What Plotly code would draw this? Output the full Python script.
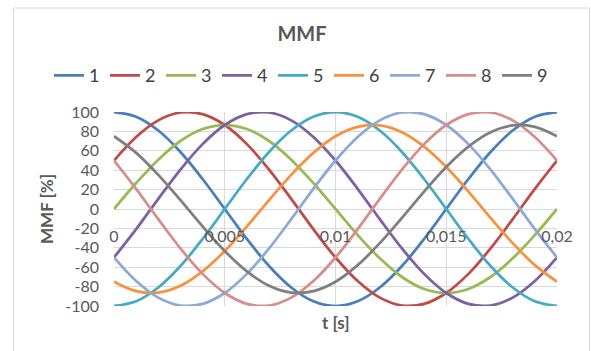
import plotly.graph_objects as go

t = [0, 0.001, 0.002, 0.003, 0.004, 0.005, 0.006, 0.007, 0.008, 0.009, 0.010,
     0.011, 0.012, 0.013, 0.014, 0.015, 0.016, 0.017, 0.018, 0.019, 0.020]

s1 = [100, 95.1, 80.9, 58.8, 30.9, 0, -30.9, -58.8, -80.9, -95.1, -100,
      -95.1, -80.9, -58.8, -30.9, 0, 30.9, 58.8, 80.9, 95.1, 100]
s2 = [50, 74.3, 91.4, 99.5, 97.8, 86.6, 66.9, 40.7, 10.5, -20.8, -50,
      -74.3, -91.4, -99.5, -97.8, -86.6, -66.9, -40.7, -10.5, 20.8, 50]
s3 = [0, 26.8, 50.9, 70.1, 82.4, 86.6, 82.4, 70.1, 50.9, 26.8, 0,
      -26.8, -50.9, -70.1, -82.4, -86.6, -82.4, -70.1, -50.9, -26.8, 0]
s4 = [-50, -20.8, 10.5, 40.7, 66.9, 86.6, 97.8, 99.5, 91.4, 74.3, 50,
      20.8, -10.5, -40.7, -66.9, -86.6, -97.8, -99.5, -91.4, -74.3, -50]
s5 = [-100, -95.1, -80.9, -58.8, -30.9, 0, 30.9, 58.8, 80.9, 95.1, 100,
      95.1, 80.9, 58.8, 30.9, 0, -30.9, -58.8, -80.9, -95.1, -100]
s6 = [-75, -84.7, -86.2, -79.2, -64.3, -43.3, -18.0, 9.1, 35.2, 57.9, 75,
      84.7, 86.2, 79.2, 64.3, 43.3, 18.0, -9.1, -35.2, -57.9, -75]
s7 = [-50, -74.3, -91.4, -99.5, -97.8, -86.6, -66.9, -40.7, -10.5, 20.8, 50,
      74.3, 91.4, 99.5, 97.8, 86.6, 66.9, 40.7, 10.5, -20.8, -50]
s8 = [50, 20.8, -10.5, -40.7, -66.9, -86.6, -97.8, -99.5, -91.4, -74.3, -50,
      -20.8, 10.5, 40.7, 66.9, 86.6, 97.8, 99.5, 91.4, 74.3, 50]
s9 = [75, 57.9, 35.2, 9.1, -18.0, -43.3, -64.3, -79.2, -86.2, -84.7, -75,
      -57.9, -35.2, -9.1, 18.0, 43.3, 64.3, 79.2, 86.2, 84.7, 75]

series_names = ["1", "2", "3", "4", "5", "6", "7", "8", "9"]
series_values = [s1, s2, s3, s4, s5, s6, s7, s8, s9]
colors = ["#4A7EBB", "#BE4B48", "#98B954", "#7D60A0", "#46AAC5",
          "#F69240", "#8EAAD4", "#D68E8D", "#7F7F7F"]

x_tick_vals = [0, 0.005, 0.01, 0.015, 0.02]
x_tick_text = ["0", "0,005", "0,01", "0,015", "0,02"]
y_tick_vals = [-100, -80, -60, -40, -20, 0, 20, 40, 60, 80, 100]
y_tick_text = ["-100", "-80", "-60", "-40", "-20", "0", "20", "40", "60", "80", "100"]

FONT = "Lato"
GRAY = "#595959"

fig = go.Figure()
for name, vals, col in zip(series_names, series_values, colors):
    fig.add_trace(go.Scatter(x=t, y=vals, name=name, mode="lines",
                             line=dict(color=col, width=2.75, shape="spline")))

W, H = 591, 351
L, R, T, B = 114, 34, 111.5, 44.5
pw, ph = W - L - R, H - T - B

def px2x(p):
    return (p - L) / pw

def py2y(p):
    return (H - B - p) / ph

fig.update_layout(
    width=W, height=H,
    margin=dict(l=L, r=R, t=T, b=B, autoexpand=False),
    paper_bgcolor="white", plot_bgcolor="white",
    font=dict(family=FONT, color=GRAY, size=16),
    title=dict(text="<b>MMF</b>", x=302 / W, xanchor="center",
               y=1 - 34 / H, yanchor="middle",
               font=dict(family=FONT, size=20, color=GRAY)),
    showlegend=True,
    legend=dict(orientation="h", x=px2x(49), xanchor="left",
                y=py2y(75), yanchor="middle",
                font=dict(family=FONT, size=18, color="#404040"),
                entrywidth=11, entrywidthmode="pixels",
                bgcolor="rgba(0,0,0,0)"),
    xaxis=dict(range=[0, 0.02], tickvals=x_tick_vals, ticktext=x_tick_text,
               showgrid=True, gridcolor="#D9D9D9", gridwidth=1,
               zeroline=False, showline=False, ticks="",
               anchor="free", position=0.5, ticklabelstandoff=16,
               tickfont=dict(family=FONT, size=16, color=GRAY)),
    yaxis=dict(range=[-100, 100], tickvals=y_tick_vals, ticktext=y_tick_text,
               showgrid=True, gridcolor="#D9D9D9", gridwidth=1,
               zeroline=True, zerolinecolor="#D9D9D9", zerolinewidth=1,
               showline=False, ticks="", ticklabelstandoff=14,
               tickfont=dict(family=FONT, size=16, color=GRAY)),
    annotations=[
        dict(text="<b>t [s]</b>", xref="paper", yref="paper",
             x=0.5, y=py2y(323), xanchor="center", yanchor="middle",
             showarrow=False, font=dict(family=FONT, size=17, color=GRAY)),
        dict(text="<b>MMF [%]</b>", xref="paper", yref="paper",
             x=px2x(46), y=0.5, xanchor="center", yanchor="middle",
             textangle=-90, showarrow=False,
             font=dict(family=FONT, size=17, color=GRAY)),
    ],
    shapes=[dict(type="rect", xref="paper", yref="paper",
                 x0=px2x(13.5), x1=px2x(589.5), y0=py2y(360), y1=py2y(7),
                 line=dict(color="#D9D9D9", width=1), layer="below")],
)

fig.write_html("out.html", config={"displayModeBar": False},
               post_script="document.body.style.margin='0px';document.body.style.overflow='hidden';")
